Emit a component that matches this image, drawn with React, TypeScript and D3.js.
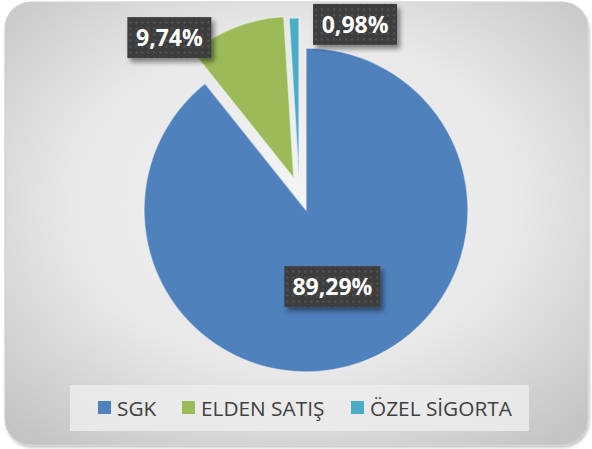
import * as d3 from 'd3';

const categories = ['SGK', 'ELDEN SATIŞ', 'ÖZEL SİGORTA'];
const shares = [89.29, 9.74, 0.98];
const colors = ['#4f81bd', '#9bbb59', '#4bacc6'];

// explode distance and direction (deg, clockwise from top) per slice
const explodeDist = [0, 34, 31];
const explodeDir = [0, 339, 347];
// label position in polar coords around the pie centre
const labelDir = [161, 321.6, 14.8];
const labelRad = [81, 220, 192];

const W = 592;
const H = 449;
const CX = 306;
const CY = 210;
const R = 162;

const fmt = (v: number) => v.toFixed(2).replace('.', ',') + '%';
const rad = (deg: number) => (deg * Math.PI) / 180;

export default function App() {
  const pie = d3
    .pie<number>()
    .sort(null)
    .value((d) => d)(shares);
  const arc = d3.arc<d3.PieArcDatum<number>>().innerRadius(0).outerRadius(R);

  const legendX = [98, 182, 351];

  return (
    <svg
      width={W}
      height={H}
      style={{ position: 'absolute', left: 0, top: 0, fontFamily: '"Open Sans", sans-serif' }}
    >
      <defs>
        <radialGradient id="bg" cx="50%" cy="45%" r="70%">
          <stop offset="0%" stopColor="#f4f4f4" />
          <stop offset="55%" stopColor="#e8e8e8" />
          <stop offset="100%" stopColor="#c4c4c4" />
        </radialGradient>
        <pattern id="dots" width={6} height={6} patternUnits="userSpaceOnUse">
          <rect width={6} height={6} fill="#3e3e3e" />
          <circle cx={3} cy={3} r={1.1} fill="#585858" />
        </pattern>
        <filter id="shadow" x="-20%" y="-20%" width="150%" height="160%">
          <feDropShadow dx={3} dy={4} stdDeviation={2.5} floodColor="#000" floodOpacity={0.45} />
        </filter>
        <filter id="frameShadow" x="-5%" y="-5%" width="110%" height="110%">
          <feDropShadow dx={1} dy={2} stdDeviation={1.5} floodColor="#000" floodOpacity={0.25} />
        </filter>
      </defs>

      <rect
        x={5}
        y={2}
        width={583}
        height={443}
        rx={26}
        fill="url(#bg)"
        stroke="#d0d0d0"
        filter="url(#frameShadow)"
      />

      <g transform={`translate(${CX},${CY})`}>
        {pie.map((p, i) => {
          const dx = Math.sin(rad(explodeDir[i])) * explodeDist[i];
          const dy = -Math.cos(rad(explodeDir[i])) * explodeDist[i];
          return (
            <path
              key={i}
              d={arc(p) || ''}
              transform={`translate(${dx},${dy})`}
              fill={colors[i]}
              stroke="#f2f2f2"
              strokeOpacity={0.6}
              strokeWidth={1.5}
              strokeLinejoin="round"
            />
          );
        })}
        {shares.map((v, i) => {
          const lx = Math.sin(rad(labelDir[i])) * labelRad[i];
          const ly = -Math.cos(rad(labelDir[i])) * labelRad[i];
          const bw = i === 0 ? 96 : 84;
          const bh = 41;
          return (
            <g key={i} transform={`translate(${lx},${ly})`}>
              <rect
                x={-bw / 2}
                y={-bh / 2}
                width={bw}
                height={bh}
                fill="url(#dots)"
                filter="url(#shadow)"
              />
              <text
                textAnchor="middle"
                dy="0.36em"
                fill="#ffffff"
                fontSize={23}
                fontWeight={700}
              >
                {fmt(v)}
              </text>
            </g>
          );
        })}
      </g>

      <rect x={70} y={385} width={459} height={46} fill="#ececec" opacity={0.85} />
      {categories.map((c, i) => (
        <g key={c} transform={`translate(${legendX[i]},408)`}>
          <rect x={0} y={-7} width={13} height={13} fill={colors[i]} />
          <text x={19} dy="0.36em" fontSize={20.8} fill="#404040">
            {c}
          </text>
        </g>
      ))}
    </svg>
  );
}
